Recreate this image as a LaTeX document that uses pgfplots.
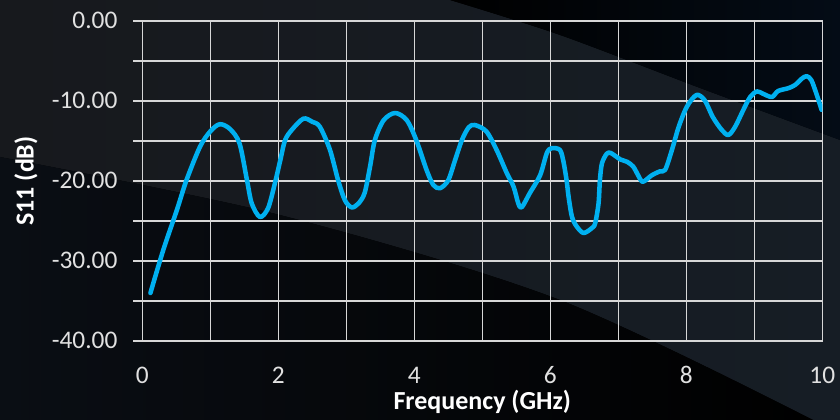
\documentclass[border=0pt]{standalone}
\usepackage{pgfplots}
\pgfplotsset{compat=1.18}
\usepackage{fontspec}
\setmainfont{Carlito}
\definecolor{gridc}{RGB}{215,215,215}
\definecolor{labc}{RGB}{225,225,225}
\definecolor{linec}{RGB}{0,176,240}
\definecolor{bandl}{RGB}{23,25,29}
\definecolor{bandm}{RGB}{21,21,22}
\definecolor{bandr}{RGB}{22,29,37}
\definecolor{navyr}{RGB}{4,12,22}
\definecolor{navyl}{RGB}{10,14,20}
\begin{document}
\begin{tikzpicture}
\useasboundingbox (0,0) rectangle (630pt,315pt);
\begin{scope}[shift={(0pt,315pt)},x=0.75pt,y=-0.75pt]
\fill[black] (0,0) rectangle (840,420);
\shade[left color=bandl, middle color=bandm, right color=bandr]
  plot[smooth] coordinates {(450,0)(560,35)(700,88)(840,140)} -- (840,420)
  -- plot[smooth] coordinates {(813,420)(560,300)(280,215)(0,157)} -- (0,0) -- cycle;
\shade[left color=navyl, right color=black]
  plot[smooth] coordinates {(0,157)(280,215)(560,300)(813,420)} -- (0,420) -- cycle;
\shade[left color=black, right color=navyr]
  plot[smooth] coordinates {(450,0)(560,35)(700,88)(840,140)} -- (840,0) -- cycle;
\end{scope}
\begin{axis}[
  at={(106.7pt,59.25pt)}, anchor=south west,
  scale only axis, width=510pt, height=240pt,
  xmin=0, xmax=10, ymin=-40, ymax=0,
  xtick={0,1,...,10}, xticklabels={0,,2,,4,,6,,8,,10},
  ytick={-40,-35,...,0}, yticklabels={-40.00,,-30.00,,-20.00,,-10.00,,0.00},
  grid=major, major grid style={gridc, line width=1pt},
  axis line style={gridc, line width=1pt},
  tick align=outside, ytick pos=left, xtick pos=bottom,
  major tick length=6.75pt,
  xtick style={draw=none},
  ytick style={gridc, line width=1pt},
  tick label style={font=\fontsize{19}{23}\selectfont, text=labc, inner sep=0pt},
  xticklabel style={anchor=base, yshift=-25.5pt},
  yticklabel style={anchor=base east, xshift=-11.7pt, yshift=-5.5pt},
  xlabel={Frequency (GHz)}, ylabel={S11 (dB)},
  label style={font=\bfseries\fontsize{19.5}{23}\selectfont, text=white, inner sep=0pt},
  xlabel style={at={(rel axis cs:0.5,0)}, anchor=base, yshift=-51.75pt},
  ylabel style={at={(rel axis cs:0,0.5)}, anchor=base, yshift=81.5pt},
]
\addplot[linec, line width=3.4pt, smooth, line join=round, line cap=round] coordinates {
(0.12,-34.0) (0.31,-28.6) (0.51,-23.6) (0.65,-19.9) (0.85,-15.7) (1.00,-13.8)
(1.14,-12.9) (1.29,-13.5) (1.43,-15.3) (1.54,-19.9) (1.61,-22.8) (1.73,-24.5)
(1.85,-23.4) (1.95,-20.3) (2.03,-17.4) (2.10,-14.9) (2.20,-13.6) (2.37,-12.2)
(2.50,-12.6) (2.61,-13.2) (2.76,-16.1) (2.88,-19.9) (2.98,-22.4) (3.08,-23.3)
(3.18,-22.8) (3.27,-21.5) (3.35,-18.2) (3.42,-14.9) (3.55,-12.4) (3.72,-11.5)
(3.89,-12.4) (4.03,-14.9) (4.18,-18.6) (4.28,-20.5) (4.38,-20.9) (4.50,-19.9)
(4.60,-17.4) (4.70,-14.9) (4.80,-13.3) (4.89,-13.0) (5.06,-13.8) (5.21,-16.1)
(5.36,-19.0) (5.46,-20.7) (5.53,-22.8) (5.58,-23.3) (5.70,-21.5) (5.85,-19.3)
(5.95,-16.5) (6.02,-15.9) (6.14,-16.1) (6.19,-17.4) (6.24,-19.9) (6.27,-22.0)
(6.32,-24.5) (6.39,-25.7) (6.49,-26.5) (6.61,-25.9) (6.66,-25.3) (6.71,-22.8)
(6.73,-19.9) (6.76,-17.8) (6.83,-16.6) (6.89,-16.5) (7.03,-17.3) (7.13,-17.6)
(7.22,-18.2) (7.29,-19.25) (7.36,-20.1) (7.49,-19.3) (7.61,-18.8) (7.69,-18.6)
(7.79,-16.1) (7.89,-13.2) (8.01,-10.7) (8.15,-9.25) (8.27,-9.9) (8.39,-12.0)
(8.52,-13.6) (8.62,-14.25) (8.72,-13.2) (8.84,-11.1) (8.94,-9.5) (9.04,-8.8)
(9.13,-9.1) (9.26,-9.5) (9.35,-8.75) (9.50,-8.4) (9.60,-8.0) (9.70,-7.2)
(9.77,-6.9) (9.84,-7.4) (9.92,-9.25) (9.99,-11.1)
};
\end{axis}
\end{tikzpicture}
\end{document}
